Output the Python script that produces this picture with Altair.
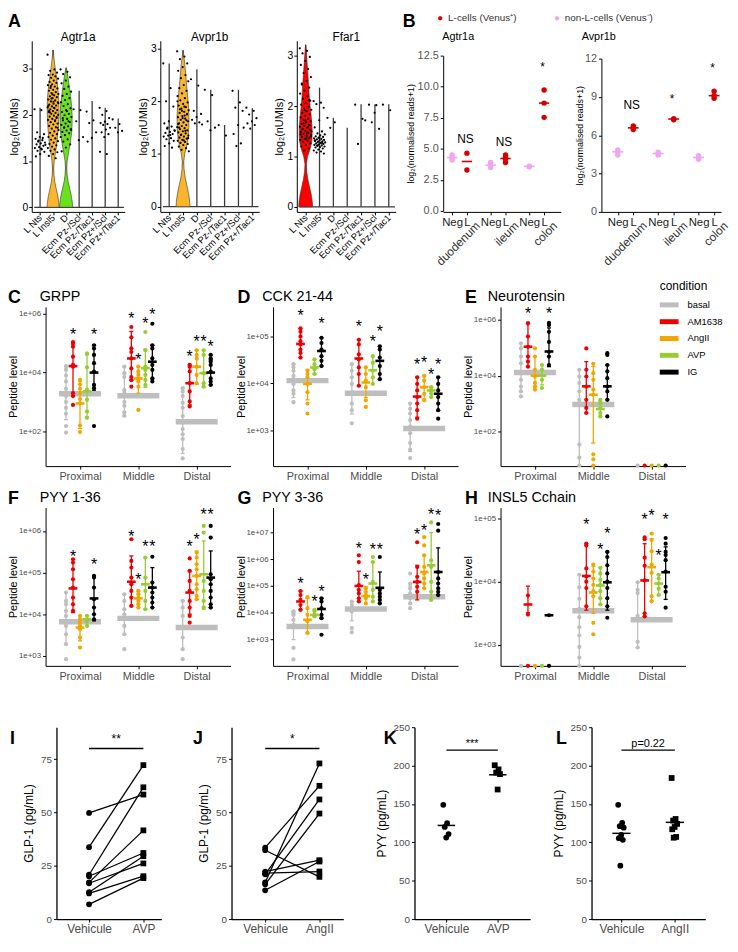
import altair as alt
import pandas as pd

FONT = "Liberation Sans"
GREY = "#4D4D4D"

# ===================== Panel A : single-cell violins =====================
A_GROUPS = ["L Nts", "L Insl5", "D", "Ecm Pz-/Scl", "Ecm Pz-/Tac1", "Ecm Pz+/Scl", "Ecm Pz+/Tac1"]

agtr1a_top = [2.15, 3.40, 3.00, 2.52, 2.30, 2.15, 1.92]
avpr1b_top = [2.72, 2.97, 2.61, 2.22, 1.55, 2.22, 1.87]
ffar1_top = [3.22, 2.37, 1.77, 1.57, 2.04, 2.04, 2.04]

agtr1a_pts = [
    [2.12, 2.10, 1.62, 1.58, 1.52, 1.48, 1.45, 1.42, 1.40, 1.38, 1.36, 1.33, 1.30, 1.28, 1.25, 1.22, 1.20, 1.15, 1.10, 1.50, 1.44, 1.35, 1.27],
    [3.30, 2.98, 2.95, 2.91, 2.87, 2.86, 2.83, 2.80, 2.78, 2.74, 2.71, 2.69, 2.66, 2.64, 2.61, 2.58, 2.57, 2.54, 2.52, 2.49,
     2.47, 2.45, 2.42, 2.40, 2.38, 2.36, 2.33, 2.31, 2.29, 2.27, 2.24, 2.22, 2.20, 2.18, 2.16, 2.14, 2.12, 2.10, 2.08, 2.06,
     2.04, 2.02, 2.00, 1.98, 1.96, 1.93, 1.91, 1.89, 1.86, 1.84, 1.81, 1.79, 1.76, 1.73, 1.70, 1.67, 1.64, 1.61, 1.58, 1.55,
     1.52, 1.49, 1.46, 1.43, 1.40, 1.37, 1.34, 1.31, 1.28, 1.25, 1.22, 1.19, 1.15, 1.11, 1.06, 2.35, 2.25, 2.15, 2.05, 1.95,
     2.44, 2.19, 1.88, 2.62, 1.72, 2.28, 2.09],
    [2.98, 2.93, 2.88, 2.81, 2.74, 2.68, 2.61, 2.56, 2.50, 2.45, 2.41, 2.36, 2.32, 2.27, 2.23, 2.19, 2.14, 2.10, 2.06, 2.02,
     1.99, 1.95, 1.91, 1.88, 1.84, 1.81, 1.78, 1.75, 1.72, 1.69, 1.66, 1.63, 1.60, 1.56, 1.52, 1.47, 1.42, 1.36, 1.29, 1.21,
     1.86, 1.73, 1.67, 2.08, 1.93],
    [2.12, 2.10, 1.86, 1.52, 1.45],
    [2.07, 1.88, 1.82, 1.62, 1.50, 1.42],
    [2.15, 2.08, 2.00, 1.93, 1.85, 1.82, 1.80, 1.78, 1.72, 1.68, 1.62, 1.58, 1.52, 1.20, 1.15],
    [1.90, 1.80, 1.72, 1.65, 1.62],
]
avpr1b_pts = [
    [2.72, 2.25, 2.00, 1.90, 1.62, 1.58, 1.52, 1.48, 1.45, 1.42, 1.40, 1.38, 1.35, 1.33, 1.30, 1.28, 1.25, 1.20, 1.15, 1.12, 1.50, 1.44, 1.36],
    [2.95, 2.85, 2.80, 2.72, 2.65, 2.58, 2.50, 2.44, 2.38, 2.31, 2.25, 2.20, 2.15, 2.10, 2.06, 2.02, 1.98, 1.95, 1.92, 1.89,
     1.86, 1.83, 1.80, 1.78, 1.75, 1.72, 1.70, 1.67, 1.65, 1.62, 1.60, 1.58, 1.55, 1.53, 1.51, 1.49, 1.47, 1.45, 1.43, 1.41,
     1.39, 1.37, 1.35, 1.33, 1.31, 1.29, 1.27, 1.25, 1.23, 1.21, 1.19, 1.17, 1.14, 1.11, 1.08, 1.05, 1.90, 1.85, 1.76, 1.68,
     1.57, 1.44, 1.36, 1.30, 1.26, 1.50, 1.64, 1.82, 2.00, 1.73],
    [2.42, 2.30, 1.82, 1.76, 1.70, 1.65, 1.60, 1.58, 1.56],
    [2.22, 2.12, 1.62, 1.50, 1.45],
    [1.55, 1.35],
    [2.20, 1.98, 1.88, 1.82, 1.55, 1.38, 1.20, 1.15, 1.50],
    [1.88, 1.82, 1.75, 1.68, 1.62, 1.58, 1.55, 1.48],
]
ffar1_pts = [
    [3.15, 3.10, 3.05, 2.98, 2.90, 2.82, 2.74, 2.66, 2.58, 2.50, 2.43, 2.37, 2.31, 2.25, 2.20, 2.15, 2.11, 2.07, 2.03, 1.99,
     1.96, 1.93, 1.90, 1.87, 1.84, 1.81, 1.78, 1.75, 1.73, 1.70, 1.68, 1.65, 1.63, 1.61, 1.59, 1.57, 1.55, 1.53, 1.51, 1.49,
     1.47, 1.45, 1.43, 1.41, 1.39, 1.37, 1.35, 1.33, 1.31, 1.29, 1.26, 1.23, 1.20, 1.16, 1.12, 1.50, 1.46, 1.54, 1.62, 1.72,
     1.44, 1.58, 1.66, 1.40, 1.36, 2.45, 2.12, 1.92],
    [2.10, 2.07, 2.04, 1.97, 1.72, 1.58, 1.50, 1.46, 1.44, 1.42, 1.40, 1.39, 1.37, 1.36, 1.35, 1.34, 1.33, 1.32, 1.31, 1.30,
     1.29, 1.28, 1.27, 1.26, 1.25, 1.24, 1.23, 1.22, 1.21, 1.20, 1.19, 1.18, 1.16, 1.14, 1.12, 1.10, 1.08, 1.06, 1.38, 1.32,
     1.27, 1.22],
    [1.77, 1.68, 1.57],
    [],
    [2.03, 1.75, 1.25, 1.72],
    [2.03, 2.02, 1.68, 1.55, 1.87],
    [2.03, 1.92],
]

# violin outlines (height, half-width in group units)
agtr1a_insl5_vy = [0, 0.1, 0.25, 0.4, 0.55, 0.7, 0.85, 1.0, 1.15, 1.3, 1.5, 1.7, 1.9, 2.1, 2.3, 2.5, 2.7, 2.9, 3.1, 3.25, 3.4]
agtr1a_insl5_vw = [0.46, 0.44, 0.36, 0.24, 0.13, 0.07, 0.05, 0.09, 0.16, 0.25, 0.33, 0.39, 0.43, 0.45, 0.44, 0.39, 0.31, 0.21, 0.12, 0.06, 0.01]
agtr1a_d_vy = [0, 0.1, 0.25, 0.4, 0.55, 0.7, 0.85, 1.0, 1.2, 1.4, 1.6, 1.8, 2.0, 2.2, 2.4, 2.6, 2.8, 2.95, 3.02]
agtr1a_d_vw = [0.5, 0.48, 0.4, 0.28, 0.16, 0.08, 0.05, 0.08, 0.2, 0.32, 0.42, 0.46, 0.46, 0.42, 0.34, 0.25, 0.15, 0.06, 0.01]
avpr1b_insl5_vy = [0, 0.1, 0.25, 0.4, 0.55, 0.7, 0.85, 1.0, 1.15, 1.3, 1.5, 1.7, 1.9, 2.1, 2.3, 2.5, 2.7, 2.85, 2.97]
avpr1b_insl5_vw = [0.5, 0.48, 0.4, 0.28, 0.16, 0.08, 0.05, 0.12, 0.26, 0.36, 0.42, 0.43, 0.4, 0.33, 0.26, 0.2, 0.13, 0.06, 0.01]
ffar1_nts_vy = [0, 0.1, 0.25, 0.4, 0.55, 0.7, 0.85, 1.0, 1.15, 1.3, 1.45, 1.6, 1.8, 2.0, 2.2, 2.4, 2.6, 2.8, 3.0, 3.15, 3.22]
ffar1_nts_vw = [0.5, 0.48, 0.4, 0.28, 0.16, 0.08, 0.05, 0.14, 0.32, 0.44, 0.47, 0.46, 0.4, 0.32, 0.26, 0.22, 0.17, 0.12, 0.07, 0.03, 0.01]

V_ORANGE = "#F9B52E"
V_GREEN = "#6BE01C"
V_RED = "#FF0000"

# ===================== Panel B : bulk RNA-seq =====================
B_POS = [1, 2, 3.6, 4.6, 6.2, 7.2]
B_TISSUE = ["duodenum", "ileum", "colon"]
B_LEGEND = ["L-cells (Venus⁺)", "non-L-cells (Venus⁻)"]
B_RED = "#D40000"
B_PINK = "#EEA6EE"

b_agtr1a_neg = [[4.10, 4.30, 4.50], [3.50, 3.68, 3.90], [3.56, 3.60]]
b_agtr1a_l = [[4.65, 3.30], [3.90, 4.17, 4.30, 4.50], [9.73, 8.68, 7.53]]
b_agtr1a_med_neg = [4.30, 3.68, 3.58]
b_agtr1a_med_l = [3.98, 4.22, 8.68]
b_agtr1a_ann = ["NS", "NS", "*"]
b_agtr1a_ann_y = [5.78, 5.56, 11.6]

b_avpr1b_neg = [[4.45, 4.70, 4.85], [4.45, 4.57, 4.68], [4.12, 4.26, 4.40]]
b_avpr1b_l = [[6.45, 6.58, 6.72], [7.22, 7.30], [8.90, 9.10, 9.45]]
b_avpr1b_med_neg = [4.70, 4.57, 4.26]
b_avpr1b_med_l = [6.58, 7.27, 9.10]
b_avpr1b_ann = ["NS", "*", "*"]
b_avpr1b_ann_y = [8.39, 8.8, 11.3]

# ===================== Panels C-H : peptidomics (log10 peptide level) =====================
COND = ["basal", "AM1638", "AngII", "AVP", "IG"]
COND_COLORS = ["#BEBEBE", "#EE0000", "#F0A800", "#98CC33", "#000000"]
COND_OFF = [-0.24, -0.12, 0.0, 0.12, 0.24]
REGIONS = ["Proximal", "Middle", "Distal"]

grpp_pts = {
    "basal": [[4.22, 4.10, 3.90, 3.70, 3.45, 3.20, 3.00, 2.80, 2.60, 2.18, 1.96], [4.20, 3.98, 3.85, 3.40, 3.30, 3.00, 2.87, 2.65, 2.54], [3.47, 3.36, 3.20, 2.97, 2.80, 2.52, 2.30, 2.08, 1.90, 1.74, 1.40, 1.08]],
    "AM1638": [[5.04, 4.98, 4.88, 4.54, 4.26, 4.20, 3.30, 3.20, 2.90], [5.55, 5.20, 4.82, 4.70, 4.48, 4.14, 3.85, 3.74, 3.52], [4.26, 4.20, 4.04, 3.64, 3.36, 3.02, 2.85]],
    "AngII": [[3.75, 3.60, 3.45, 3.30, 3.10, 2.95, 2.20, 1.98], [4.20, 4.04, 3.92, 3.80, 3.70, 3.52, 2.73], [4.76, 4.60, 4.48, 4.20, 3.92, 3.64]],
    "AVP": [[4.65, 4.18, 3.42, 3.08, 2.68, 2.46], [5.38, 4.76, 4.20, 4.09, 3.92, 3.75, 3.58], [4.76, 4.60, 3.98, 3.64, 3.52]],
    "IG": [[4.93, 4.82, 4.60, 4.32, 4.03, 3.58, 3.47, 2.18], [5.66, 4.93, 4.82, 4.48, 4.26, 4.09, 3.80, 3.70], [4.60, 4.48, 4.43, 4.37, 4.26, 4.03, 3.80, 3.70, 3.58]],
}
grpp_mean = {"basal": [3.28, 3.21, 2.33], "AM1638": [4.22, 4.48, 3.64], "AngII": [2.95, 3.80, 4.20], "AVP": [3.36, 4.15, 3.98], "IG": [4.00, 4.37, 4.00]}
grpp_err = {"basal": [[2.40, 4.20], [2.50, 4.20], [1.25, 3.47]], "AM1638": [[3.20, 5.05], [3.75, 5.40], [2.90, 4.26]],
            "AngII": [[2.10, 3.70], [3.30, 4.20], [3.60, 4.76]], "AVP": [[2.50, 4.60], [3.50, 4.80], [3.50, 4.76]],
            "IG": [[3.40, 4.95], [3.80, 4.93], [3.58, 4.60]]}
grpp_stars = [(0, 1, 5.40), (0, 4, 5.40), (1, 1, 5.95), (1, 2, 4.57), (1, 3, 5.78), (1, 4, 6.08), (2, 1, 4.65), (2, 2, 5.16), (2, 3, 5.16), (2, 4, 4.99)]

cck_pts = {
    "basal": [[4.41, 4.34, 4.27, 4.16, 4.09, 3.99, 3.85, 3.78, 3.60], [4.41, 4.27, 4.13, 3.99, 3.78, 3.57, 3.43, 3.15], [3.57, 3.46, 3.36, 3.22, 3.08, 2.94, 2.73, 2.59, 2.41]],
    "AM1638": [[5.17, 5.10, 5.00, 4.90, 4.83, 4.72, 4.65, 4.55], [4.93, 4.83, 4.62, 4.51, 4.34, 4.20, 3.95], [4.13, 3.99, 3.85, 3.71, 3.57, 3.43, 3.25]],
    "AngII": [[4.27, 4.20, 4.13, 3.99, 3.81, 3.57, 3.36], [4.34, 4.20, 4.06, 3.92, 3.64, 3.50], [4.16, 4.06, 3.92, 3.78, 3.64]],
    "AVP": [[4.51, 4.41, 4.30, 4.20], [4.58, 4.44, 4.27, 4.13, 3.99], [3.92, 3.85, 3.78, 3.71]],
    "IG": [[4.97, 4.86, 4.72, 4.58, 4.48, 4.37], [4.79, 4.72, 4.55, 4.37, 4.20, 4.09], [4.13, 3.99, 3.85, 3.71, 3.57, 3.43, 3.25]],
}
cck_mean = {"basal": [4.06, 3.79, 3.04], "AM1638": [4.84, 4.53, 3.72], "AngII": [3.99, 4.02, 3.92], "AVP": [4.34, 4.28, 3.85], "IG": [4.69, 4.48, 3.78]}
cck_err = {"basal": [[3.70, 4.41], [3.35, 4.41], [2.55, 3.57]], "AM1638": [[4.55, 5.17], [3.95, 4.93], [3.28, 4.13]],
           "AngII": [[3.65, 4.30], [3.70, 4.34], [3.67, 4.16]], "AVP": [[4.20, 4.51], [3.99, 4.58], [3.71, 3.92]],
           "IG": [[4.37, 4.97], [4.09, 4.79], [3.42, 4.13]]}
cck_stars = [(0, 1, 5.52), (0, 4, 5.35), (1, 1, 5.28), (1, 3, 4.97), (1, 4, 5.17), (2, 1, 4.48), (2, 2, 4.51), (2, 3, 4.27), (2, 4, 4.48)]

nt_pts = {
    "basal": [[5.15, 4.97, 4.68, 4.44, 4.09, 3.85, 3.61, 3.44, 3.26], [4.21, 3.97, 3.74, 3.44, 3.14, 3.02, 1.55, 1.08, 0.80], [0.80]],
    "AM1638": [[5.86, 5.39, 5.03, 4.68, 4.50, 4.32], [4.97, 4.21, 3.97, 3.61, 3.14, 2.85, 2.67], [0.80]],
    "AngII": [[4.97, 4.68, 4.21, 3.97, 3.74, 3.61, 3.50], [4.42, 4.09, 3.85, 3.50, 3.32, 1.20, 1.02, 0.80], [0.80]],
    "AVP": [[4.38, 4.21, 3.85, 3.56], [3.14, 3.02, 2.85, 2.67, 2.55], [0.80]],
    "IG": [[5.88, 5.80, 5.56, 5.20, 4.85, 4.68, 4.38], [4.80, 4.74, 4.38, 4.15, 3.91, 3.61, 3.44, 3.14, 2.55], [0.80]],
}
nt_mean = {"basal": [4.11, 2.97, None], "AM1638": [5.03, 3.62, None], "AngII": [4.00, 3.32, None], "AVP": [4.00, 2.81, None], "IG": [4.86, 3.62, None]}
nt_err = {"basal": [[3.45, 5.15], [0.80, 4.21], None], "AM1638": [[4.32, 5.90], [2.67, 4.50], None],
          "AngII": [[3.61, 4.68], [1.60, 4.33], None], "AVP": [[3.67, 4.38], [2.55, 3.10], None],
          "IG": [[4.32, 5.70], [3.14, 4.38], None]}
nt_stars = [(0, 1, 6.33), (0, 4, 6.33)]

pyy1_pts = {
    "basal": [[4.52, 4.32, 4.24, 4.08, 3.96, 3.84, 3.72, 3.52, 3.28, 2.92], [4.48, 4.32, 4.12, 4.00, 3.88, 3.72, 3.52, 3.16], [4.32, 4.16, 3.96, 3.68, 3.44, 3.16, 2.92]],
    "AM1638": [[5.32, 5.24, 5.08, 4.84, 4.64, 4.40, 4.24, 4.08], [5.80, 5.28, 5.12, 4.88, 4.72, 4.56, 4.40, 4.20], [5.34, 5.04, 4.80, 4.56, 4.32, 4.16, 3.96, 3.80]],
    "AngII": [[3.96, 3.88, 3.80, 3.72, 3.64, 3.44, 3.20], [4.56, 4.48, 4.40, 4.32, 4.24, 4.16], [5.48, 5.36, 5.20, 5.08, 4.92, 4.72, 4.60, 4.44, 4.36]],
    "AVP": [[3.96, 3.84, 3.72], [5.36, 4.88, 4.56, 4.32, 4.12], [6.12, 5.96, 4.80, 4.56, 4.32, 4.16]],
    "IG": [[4.92, 4.88, 4.64, 4.36, 4.16, 4.00, 3.88], [5.38, 4.76, 4.64, 4.52, 4.40, 4.28, 4.16], [6.12, 5.84, 4.96, 4.84, 4.72, 4.56, 4.40, 4.24, 4.16]],
}
pyy1_mean = {"basal": [3.82, 3.90, 3.68], "AM1638": [4.62, 4.78, 4.52], "AngII": [3.68, 4.38, 4.92], "AVP": [3.88, 4.72, 4.96], "IG": [4.38, 4.64, 4.88]}
pyy1_err = {"basal": [[3.28, 4.52], [3.52, 4.48], [3.16, 4.32]], "AM1638": [[4.04, 5.32], [4.20, 5.40], [4.00, 5.04]],
            "AngII": [[3.36, 3.96], [4.16, 4.56], [4.36, 5.52]], "AVP": [[3.72, 3.96], [4.12, 5.36], [4.12, 5.76]],
            "IG": [[3.84, 4.92], [4.16, 5.12], [4.16, 5.52]]}
pyy1_stars = [(0, 1, 5.48), (0, 4, 5.28), (1, 1, 5.96), (1, 2, 4.92), (1, 3, 5.72), (1, 4, 5.72), (2, 1, 5.72), (2, 2, 5.88), (2, 3, 6.48), (2, 4, 6.48)]

pyy3_pts = {
    "basal": [[4.05, 3.99, 3.92, 3.74, 3.55, 2.69, 2.26], [4.42, 4.29, 4.17, 4.05, 3.43, 3.27], [5.46, 5.09, 4.91, 4.72, 4.54, 4.35, 4.17]],
    "AM1638": [[4.81, 4.66, 4.48, 4.29, 4.11], [6.14, 5.89, 5.03, 4.85, 4.72, 4.54, 4.42], [6.63, 5.71, 5.34, 5.15, 4.97, 4.78]],
    "AngII": [[4.58, 4.17, 3.92, 3.68, 3.25], [4.91, 4.78, 4.66, 4.54, 4.35], [6.82, 6.51, 6.14, 5.71, 5.46, 5.28, 5.09, 4.91]],
    "AVP": [[4.11, 4.05, 3.92, 3.86], [6.08, 5.89, 5.15, 4.85, 4.60, 4.42], [7.37, 5.95, 5.71, 5.15, 4.78, 4.48]],
    "IG": [[4.54, 4.42, 4.17, 3.92, 3.80, 3.18], [6.08, 4.85, 4.72, 4.60, 4.48, 4.35], [7.31, 7.06, 5.52, 5.28, 5.09, 4.91, 4.78, 4.66]],
}
pyy3_mean = {"basal": [3.49, 4.14, 4.60], "AM1638": [4.42, 5.00, 5.15], "AngII": [3.74, 4.62, 5.52], "AVP": [3.92, 5.09, 5.77], "IG": [4.14, 4.93, 5.52]}
pyy3_err = {"basal": [[3.00, 4.05], [3.70, 4.42], [4.35, 5.00]], "AM1638": [[4.11, 4.81], [4.42, 5.55], [4.48, 5.77]],
            "AngII": [[3.25, 4.54], [4.35, 4.97], [4.91, 6.14]], "AVP": [[3.86, 4.11], [4.42, 5.89], [4.48, 6.99]],
            "IG": [[3.80, 4.54], [4.35, 5.52], [4.66, 6.42]]}
pyy3_stars = [(0, 1, 5.22), (0, 3, 4.54), (0, 4, 4.93), (1, 1, 6.53), (1, 2, 5.38), (1, 3, 6.48), (1, 4, 6.48), (2, 1, 7.06), (2, 2, 7.18), (2, 3, 7.80), (2, 4, 7.74)]

insl_pts = {
    "basal": [[2.67], [4.11, 3.91, 3.73, 3.57, 3.44, 3.28, 3.15, 2.97, 2.80, 2.67], [3.99, 3.87, 3.82, 3.46, 3.05, 2.96]],
    "AM1638": [[3.78, 3.48, 2.67], [4.60, 4.57, 4.21, 4.08, 4.00, 3.90, 3.61], [4.70, 4.67, 4.38, 4.25, 4.02, 3.50, 3.45]],
    "AngII": [[2.67], [4.27, 4.16, 4.05, 3.95, 3.85, 3.77, 3.35, 3.17], [4.76, 4.66, 4.48, 4.27, 4.14, 3.77, 3.69]],
    "AVP": [[2.67], [4.22, 4.13, 4.03, 3.95, 3.85, 3.74, 3.64], [4.11, 4.05, 3.97, 3.89, 3.79]],
    "IG": [[3.47, 2.67], [4.47, 4.39, 4.26, 4.13, 4.00, 3.90, 3.74, 3.61, 3.43], [4.69, 4.60, 4.47, 4.42, 4.34, 4.16, 3.92, 3.84, 3.59]],
}
insl_mean = {"basal": [None, 3.54, 3.40], "AM1638": [3.64, 4.09, 4.02], "AngII": [None, 3.83, 4.23], "AVP": [None, 3.94, 3.97], "IG": [3.47, 3.99, 4.15]}
insl_err = {"basal": [None, [2.67, 4.11], [2.96, 3.99]], "AM1638": [[3.51, 3.93], [3.55, 4.60], [3.45, 4.60]],
            "AngII": [None, [3.50, 4.24], [3.69, 4.68]], "AVP": [None, [3.64, 4.22], [3.79, 4.11]],
            "IG": [None, [3.55, 4.47], [3.72, 4.55]]}
insl_stars = [(1, 1, 4.96), (1, 3, 4.56), (1, 4, 4.81), (2, 1, 5.04), (2, 2, 5.10), (2, 3, 4.47), (2, 4, 5.03)]

# ===================== Panels I-L : secretion =====================
i_vehicule = [49.8, 33.7, 20.8, 20.1, 17.2, 16.8, 12.6, 12.0, 6.9]
i_avp = [58.4, 72.2, 61.8, 31.0, 41.6, 26.1, 29.5, 20.1, 19.2]
j_vehicule = [33.5, 32.3, 22.3, 21.5, 21.0, 17.2, 16.3, 13.5]
j_angii = [62.5, 19.8, 27.6, 22.3, 56.1, 73.0, 49.5, 27.0]
k_vehicule = [148.8, 125.0, 120.0, 110.8, 106.2]
k_avp = [200.4, 195.0, 190.8, 188.8, 168.8]
k_median = [122.0, 188.0]
l_vehicule = [148.8, 125.4, 121.0, 119.0, 109.6, 105.4, 103.3, 69.6]
l_angii = [183.8, 130.4, 128.3, 124.0, 120.0, 117.0, 107.0, 106.0]
l_median = [111.7, 126.0]


# ===================== helpers =====================
def txt(text, x, y, size=12, weight="normal", align="left", baseline="middle", color="black", angle=0):
    kw = dict(fontSize=size, fontWeight=weight, align=align, baseline=baseline, color=color, font=FONT)
    if angle:
        kw["angle"] = angle
    return alt.Chart(pd.DataFrame({"t": [text]})).mark_text(**kw).encode(
        text="t:N", x=alt.value(x), y=alt.value(y))


def jitter(i, spread):
    return ((i * 0.6180339887) % 1.0 - 0.5) * spread


def ax(**kw):
    base = dict(domainColor="black", tickColor="black", grid=False, labelFont=FONT, titleFont=FONT,
                titleFontWeight="normal", domainWidth=1, tickWidth=1, labelOverlap=False)
    base.update(kw)
    return alt.Axis(**base)


def hgap(w):
    return alt.Chart(pd.DataFrame({"v": [0]})).mark_point(opacity=0, size=1).encode(
        x=alt.X("v:Q", axis=None), y=alt.Y("v:Q", axis=None)).properties(width=w, height=1)


def vgap(h):
    return alt.Chart(pd.DataFrame({"v": [0]})).mark_point(opacity=0, size=1).encode(
        x=alt.X("v:Q", axis=None), y=alt.Y("v:Q", axis=None)).properties(width=1, height=h)


# ---------- Panel A ----------
def panel_a(title, tops, pts, violins, ydom, W, letter=None):
    H = 173
    xs = alt.Scale(domain=[0.36, 7.5], nice=False, zero=False)
    ys = alt.Scale(domain=ydom, nice=False, zero=False)
    lab = "[" + ",".join("'%s'" % g for g in A_GROUPS) + "][datum.value - 1]"
    xax = ax(values=list(range(1, 8)), labelExpr=lab, labelAngle=315, labelAlign="right", labelBaseline="middle",
             labelFontSize=9.5, labelColor="black", tickSize=3, title=None, labelPadding=1)
    yax = ax(values=[0, 1, 2, 3], title="log₂(nUMIs)", labelFontSize=10.5, labelColor="black", titleFontSize=11,
             tickSize=3, labelPadding=1, titleX=-17, titleBaseline="middle")

    def X(f):
        return alt.X(f, type="quantitative", scale=xs, axis=xax)

    def Y(f):
        return alt.Y(f, type="quantitative", scale=ys, axis=yax)

    rules = pd.DataFrame({"pos": list(range(1, 8)), "y0": [0.0] * 7, "top": tops})
    base = pd.DataFrame({"x0": [0.55], "x1": [7.45], "y": [0.0]})
    vrows = []
    for gi, vy, vw, col in violins:
        for yy, ww in zip(vy, vw):
            vrows.append({"grp": gi, "y": yy, "xl": gi + 1 - ww, "xr": gi + 1 + ww, "col": col})
    vdf = pd.DataFrame(vrows)
    prow = []
    for gi, vals in enumerate(pts):
        for i, v in enumerate(vals):
            prow.append({"x": gi + 1 + jitter(i, 0.85), "y": v})
    pdf = pd.DataFrame(prow)
    layers = [
        alt.Chart(rules).mark_rule(color="#3a3a3a", strokeWidth=1.3).encode(x=X("pos"), y=Y("y0"), y2="top"),
        alt.Chart(base).mark_rule(color="#3a3a3a", strokeWidth=1.3).encode(x=X("x0"), x2="x1", y=Y("y")),
        alt.Chart(vdf).mark_area(orient="horizontal", stroke="#333333", strokeWidth=0.6).encode(
            y=Y("y"), x=X("xl"), x2="xr", fill=alt.Fill("col:N", scale=None), detail="grp:N"),
        alt.Chart(pdf).mark_circle(size=5, color="black", opacity=1).encode(x=X("x"), y=Y("y")),
        txt(title, W / 2, -4, size=12, align="center"),
    ]
    if letter:
        layers.append(txt(letter, -24, -28, size=18, weight="bold", baseline="top"))
    return alt.layer(*layers).properties(width=W, height=H)


# ---------- Panel B ----------
def panel_b(title, neg, lpts, med_neg, med_l, ann, ann_y, ydom, yvals, yfmt, W, xdom, yrange, title_dx, ytitle_x,
            letter=False):
    H = 173
    xs = alt.Scale(domain=xdom, nice=False, zero=False)
    ys = alt.Scale(domain=ydom, range=yrange, nice=False, zero=False)
    xax = ax(values=B_POS, labelExpr="indexof([1, 3.6, 6.2], datum.value) >= 0 ? 'Neg' : 'L'",
             labelFontSize=11.5, labelColor="#222222", tickSize=3, title=None, labelPadding=2)
    yax = ax(values=yvals, format=yfmt, title="log₂(normalised reads+1)", labelFontSize=11, labelColor="#555555",
             titleFontSize=9, tickSize=3, labelPadding=2, titleX=ytitle_x, titleBaseline="middle")

    def X(f):
        return alt.X(f, type="quantitative", scale=xs, axis=xax)

    def Y(f):
        return alt.Y(f, type="quantitative", scale=ys, axis=yax)

    prow, mrow, arow, trow = [], [], [], []
    for t in range(3):
        xn, xl = B_POS[2 * t], B_POS[2 * t + 1]
        for v in neg[t]:
            prow.append({"x": xn, "y": v, "col": B_PINK})
        for v in lpts[t]:
            prow.append({"x": xl, "y": v, "col": B_RED})
        mrow.append({"x0": xn - 0.35, "x1": xn + 0.35, "y": med_neg[t], "col": B_PINK})
        mrow.append({"x0": xl - 0.35, "x1": xl + 0.35, "y": med_l[t], "col": B_RED})
        arow.append({"x": xl - 0.1, "y": ann_y[t], "t": ann[t]})
        trow.append({"x": xl + 0.75, "t": B_TISSUE[t]})
    layers = [
        alt.Chart(pd.DataFrame(mrow)).mark_rule(strokeWidth=1.6).encode(
            x=X("x0"), x2="x1", y=Y("y"), color=alt.Color("col:N", scale=None)),
        alt.Chart(pd.DataFrame(prow)).mark_circle(size=30, opacity=1).encode(
            x=X("x"), y=Y("y"), color=alt.Color("col:N", scale=None)),
        alt.Chart(pd.DataFrame(arow)).mark_text(fontSize=12, font=FONT, baseline="middle").encode(
            x=X("x"), y=Y("y"), text="t:N"),
        alt.Chart(pd.DataFrame(trow)).mark_text(fontSize=12, font=FONT, color="#333333", angle=315, align="right",
                                                baseline="middle").encode(x=X("x"), y=alt.value(H + 12), text="t:N"),
        txt(title, title_dx, -4, size=11),
    ]
    if letter:
        layers += [
            txt("B", -41, -28, size=18, weight="bold", baseline="top"),
            txt("●", -3, -23, size=10, color=B_RED, align="center"),
            txt(B_LEGEND[0], 5, -23, size=10, color="#333333"),
            txt("●", 115, -23, size=10, color=B_PINK, align="center"),
            txt(B_LEGEND[1], 123, -23, size=10, color="#333333"),
        ]
    return alt.layer(*layers).properties(width=W, height=H)


# ---------- Panels C-H ----------
def panel_pep(title, letter, title_dx, letter_dx, pts, mean, err, stars, ydom, yvals, H, legend=False):
    W = 187
    xs = alt.Scale(domain=[0.41, 3.58], nice=False, zero=False)
    ys = alt.Scale(domain=ydom, nice=False, zero=False)
    cs = alt.Scale(domain=COND, range=COND_COLORS)
    xax = ax(values=[1, 2, 3], labelExpr="['Proximal','Middle','Distal'][datum.value - 1]", labelFontSize=11,
             labelColor=GREY, tickSize=3, title=None, labelPadding=2)
    yax = ax(values=yvals, labelExpr="'1e+' + (datum.value < 10 ? '0' : '') + datum.value", labelFontSize=8,
             labelColor=GREY, title="Peptide level", titleFontSize=11, tickSize=3, labelPadding=2,
             titleX=-32, titleBaseline="middle")

    def X(f):
        return alt.X(f, type="quantitative", scale=xs, axis=xax)

    def Y(f):
        return alt.Y(f, type="quantitative", scale=ys, axis=yax)

    def C():
        return alt.Color("cond:N", scale=cs, legend=None)

    prow, mrow, brow, erow, srow = [], [], [], [], []
    for ci, c in enumerate(COND):
        for r in range(3):
            x = r + 1 + COND_OFF[ci]
            for v in pts[c][r]:
                prow.append({"x": x, "y": v, "cond": c})
            m = mean[c][r]
            if m is not None:
                if c == "basal":
                    brow.append({"x0": r + 1 - 0.36, "x1": r + 1 + 0.36, "y": m, "cond": c})
                else:
                    mrow.append({"x0": x - 0.075, "x1": x + 0.075, "y": m, "cond": c})
            e = err[c][r]
            if e is not None:
                erow.append({"x": x, "lo": e[0], "hi": e[1], "c0": x - 0.035, "c1": x + 0.035, "cond": c})
    for r, ci, yv in stars:
        srow.append({"x": r + 1 + COND_OFF[ci], "y": yv, "t": "*"})

    edf = pd.DataFrame(erow)
    layers = [
        alt.Chart(pd.DataFrame(brow)).mark_rule(strokeWidth=5.5).encode(x=X("x0"), x2="x1", y=Y("y"), color=C()),
        alt.Chart(edf).mark_rule(strokeWidth=1.3).encode(x=X("x"), y=Y("lo"), y2="hi", color=C()),
        alt.Chart(edf).mark_rule(strokeWidth=1.3).encode(x=X("c0"), x2="c1", y=Y("lo"), color=C()),
        alt.Chart(edf).mark_rule(strokeWidth=1.3).encode(x=X("c0"), x2="c1", y=Y("hi"), color=C()),
        alt.Chart(pd.DataFrame(prow)).mark_circle(size=18, opacity=1).encode(x=X("x"), y=Y("y"), color=C()),
        alt.Chart(pd.DataFrame(mrow)).mark_rule(strokeWidth=2.6).encode(x=X("x0"), x2="x1", y=Y("y"), color=C()),
        alt.Chart(pd.DataFrame(srow)).mark_text(fontSize=16, font=FONT, baseline="middle", dy=4).encode(
            x=X("x"), y=Y("y"), text="t:N"),
        txt(title, title_dx, -10, size=14.5),
        txt(letter, letter_dx, -18, size=18, weight="bold", baseline="top"),
    ]
    if legend:
        layers.append(txt("condition", 161, -21, size=12))
        for i, c in enumerate(COND):
            yy = -2 + 17 * i
            layers.append(alt.Chart(pd.DataFrame({"c": [c]})).mark_rule(strokeWidth=5, color=COND_COLORS[i]).encode(
                x=alt.value(161), x2=alt.value(180), y=alt.value(yy)))
            layers.append(txt(c, 189, yy, size=9.5))
    return alt.layer(*layers).properties(width=W, height=H)


# ---------- Panels I-L ----------
ROW4_H = 194


def row4_axes(xdom, trt_name, ylab, ydom, yvals):
    xs = alt.Scale(domain=xdom, nice=False, zero=False)
    ys = alt.Scale(domain=ydom, nice=False, zero=False)
    xax = ax(values=[1, 2], labelExpr="datum.value == 1 ? 'Vehicule' : '%s'" % trt_name, labelFontSize=12,
             labelColor=GREY, tickSize=3, title=None, labelPadding=2, domainWidth=1.3)
    yax = ax(values=yvals, labelFontSize=10, labelColor=GREY, title=ylab, titleFontSize=12, tickSize=3,
             labelPadding=2, titlePadding=5, domainWidth=1.3)
    return (lambda f: alt.X(f, type="quantitative", scale=xs, axis=xax),
            lambda f: alt.Y(f, type="quantitative", scale=ys, axis=yax))


def panel_pair(letter, letter_dx, trt_name, veh, trt, sig, W, xdom):
    X, Y = row4_axes(xdom, trt_name, "GLP-1 (pg/mL)", [0, 90], [0, 25, 50, 75])
    lrow = []
    for k, (a, b) in enumerate(zip(veh, trt)):
        lrow.append({"pair": k, "x": 1, "y": a})
        lrow.append({"pair": k, "x": 2, "y": b})
    ldf = pd.DataFrame(lrow)
    layers = [
        alt.Chart(ldf).mark_line(color="black", strokeWidth=1.3).encode(x=X("x"), y=Y("y"), detail="pair:N"),
        alt.Chart(pd.DataFrame({"x": [1] * len(veh), "y": veh})).mark_point(
            shape="circle", filled=True, size=34, color="black", opacity=1).encode(x=X("x"), y=Y("y")),
        alt.Chart(pd.DataFrame({"x": [2] * len(trt), "y": trt})).mark_point(
            shape="square", filled=True, size=34, color="black", opacity=1).encode(x=X("x"), y=Y("y")),
        alt.Chart(pd.DataFrame({"x0": [1], "x1": [2], "y": [80]})).mark_rule(strokeWidth=1.3, color="black").encode(
            x=X("x0"), x2="x1", y=Y("y")),
        alt.Chart(pd.DataFrame({"x": [1.5], "y": [81], "t": [sig]})).mark_text(
            fontSize=12, font=FONT, baseline="bottom").encode(x=X("x"), y=Y("y"), text="t:N"),
        txt(letter, letter_dx, 3, size=18, weight="bold", baseline="top"),
    ]
    return alt.layer(*layers).properties(width=W, height=ROW4_H)


def panel_dots(letter, letter_dx, trt_name, veh, trt, med, sig, W, xdom):
    X, Y = row4_axes(xdom, trt_name, "PYY (pg/mL)", [0, 250], [0, 50, 100, 150, 200, 250])
    vdf = pd.DataFrame({"x": [1 + jitter(i, 0.12) for i in range(len(veh))], "y": veh})
    tdf = pd.DataFrame({"x": [2 + jitter(i, 0.12) for i in range(len(trt))], "y": trt})
    mdf = pd.DataFrame({"x0": [0.83, 1.83], "x1": [1.17, 2.17], "y": med})
    layers = [
        alt.Chart(vdf).mark_point(shape="circle", filled=True, size=34, color="black", opacity=1).encode(
            x=X("x"), y=Y("y")),
        alt.Chart(tdf).mark_point(shape="square", filled=True, size=34, color="black", opacity=1).encode(
            x=X("x"), y=Y("y")),
        alt.Chart(mdf).mark_rule(strokeWidth=1.5, color="black").encode(x=X("x0"), x2="x1", y=Y("y")),
        alt.Chart(pd.DataFrame({"x0": [1], "x1": [2], "y": [220]})).mark_rule(strokeWidth=1.3, color="black").encode(
            x=X("x0"), x2="x1", y=Y("y")),
        alt.Chart(pd.DataFrame({"x": [1.5], "y": [222], "t": [sig]})).mark_text(
            fontSize=11, font=FONT, baseline="bottom").encode(x=X("x"), y=Y("y"), text="t:N"),
        txt(letter, letter_dx, 3, size=18, weight="bold", baseline="top"),
    ]
    return alt.layer(*layers).properties(width=W, height=ROW4_H)


# ===================== assemble =====================
a1 = panel_a("Agtr1a", agtr1a_top, agtr1a_pts,
             [(1, agtr1a_insl5_vy, agtr1a_insl5_vw, V_ORANGE), (2, agtr1a_d_vy, agtr1a_d_vw, V_GREEN)],
             [-0.1, 3.6], 94, letter="A")
a2 = panel_a("Avpr1b", avpr1b_top, avpr1b_pts, [(1, avpr1b_insl5_vy, avpr1b_insl5_vw, V_ORANGE)], [-0.1, 3.15], 100)
a3 = panel_a("Ffar1", ffar1_top, ffar1_pts, [(0, ffar1_nts_vy, ffar1_nts_vw, V_RED)], [-0.1, 3.3], 100)
b1 = panel_b("Agtr1a", b_agtr1a_neg, b_agtr1a_l, b_agtr1a_med_neg, b_agtr1a_med_l, b_agtr1a_ann, b_agtr1a_ann_y,
             [0, 12.5], [0, 2.5, 5, 7.5, 10, 12.5], ".1f", 119, [0.4, 8.33], [172, 15], -1, -33, letter=True)
b2 = panel_b("Avpr1b", b_avpr1b_neg, b_avpr1b_l, b_avpr1b_med_neg, b_avpr1b_med_l, b_avpr1b_ann, b_avpr1b_ann_y,
             [0, 12], [0, 3, 6, 9, 12], "d", 121, [-0.05, 7.65], [173, 18], -20, -22)

pc = panel_pep("GRPP", "C", -6, -38, grpp_pts, grpp_mean, grpp_err, grpp_stars, [0.82, 6.235], [2, 4, 6], 161)
pd_ = panel_pep("CCK 21-44", "D", -11, -36, cck_pts, cck_mean, cck_err, cck_stars, [2.24, 5.63], [3, 4, 5], 161)
pe = panel_pep("Neurotensin", "E", -13, -36, nt_pts, nt_mean, nt_err, nt_stars, [0.78, 6.45], [2, 4, 6], 161,
               legend=True)
pf = panel_pep("PYY 1-36", "F", -6, -38, pyy1_pts, pyy1_mean, pyy1_err, pyy1_stars, [2.76, 6.56], [3, 4, 5, 6], 160)
pg = panel_pep("PYY 3-36", "G", -11, -36, pyy3_pts, pyy3_mean, pyy3_err, pyy3_stars, [2.02, 7.92], [3, 4, 5, 6, 7], 160)
ph = panel_pep("INSL5 Cchain", "H", -13, -36, insl_pts, insl_mean, insl_err, insl_stars, [2.67, 5.17], [3, 4, 5], 160)

pi = panel_pair("I", -47, "AVP", i_vehicule, i_avp, "**", 106, [0.4, 2.33])
pj = panel_pair("J", -39, "AngII", j_vehicule, j_angii, "*", 113, [0.38, 2.44])
pk = panel_dots("K", -31, "AVP", k_vehicule, k_avp, k_median, "***", 117, [0.38, 2.63])
pl = panel_dots("L", -36, "AngII", l_vehicule, l_angii, l_median, "p=0.22", 115, [0.44, 2.57])

row1 = alt.hconcat(a1, hgap(36), a2, hgap(38), a3, hgap(48), b1, hgap(41), b2, spacing=0, bounds="flush")
row2 = alt.hconcat(hgap(14), pc, hgap(43), pd_, hgap(43), pe, spacing=0, bounds="flush")
row3 = alt.hconcat(hgap(14), pf, hgap(43), pg, hgap(43), ph, spacing=0, bounds="flush")
row4 = alt.hconcat(hgap(25), pi, hgap(71), pj, hgap(72), pk, hgap(62), pl, spacing=0, bounds="flush")

chart = alt.vconcat(
    row1, vgap(12), row2, vgap(8), row3, vgap(41), row4, spacing=0,
).properties(padding=0).configure_view(stroke=None).configure_axis(grid=False)

chart.save("out.html", embed_options={"renderer": "svg", "actions": False})
